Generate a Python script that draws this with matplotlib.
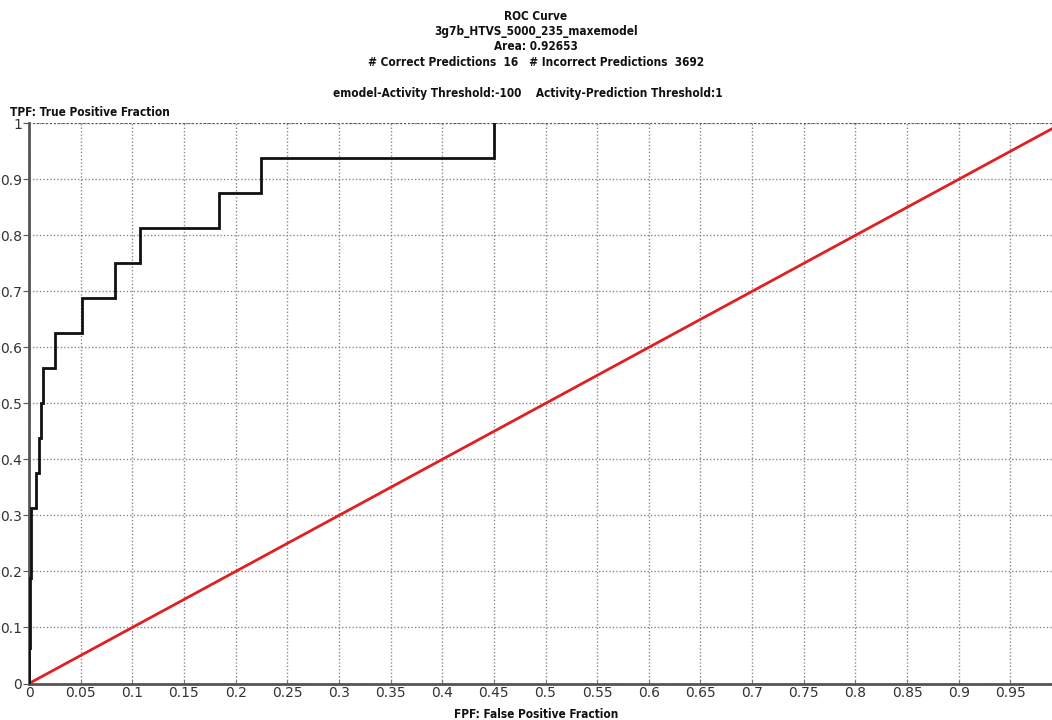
import matplotlib
matplotlib.use("Agg")
import matplotlib.pyplot as plt
from matplotlib import font_manager
import numpy as np

# ROC step curve (FPF, TPF)
fpf = [0.0, 0.0, 0.0008, 0.0008, 0.0016, 0.0016, 0.0068, 0.0068, 0.0100, 0.0100,
       0.0113, 0.0113, 0.0139, 0.0139, 0.0252, 0.0252, 0.0512, 0.0512, 0.0835, 0.0835,
       0.1075, 0.1075, 0.1840, 0.1840, 0.2250, 0.2250, 0.4505, 0.4505]
tpf = [0.0, 0.0625, 0.0625, 0.1875, 0.1875, 0.3125, 0.3125, 0.375, 0.375, 0.4375,
       0.4375, 0.5, 0.5, 0.5625, 0.5625, 0.625, 0.625, 0.6875, 0.6875, 0.75,
       0.75, 0.8125, 0.8125, 0.875, 0.875, 0.9375, 0.9375, 1.0]
diag_x = [0.0, 1.0]
diag_y = [0.0, 1.0]

xticks = [round(0.05 * i, 2) for i in range(20)]
xtick_labels = ["0", "0.05", "0.1", "0.15", "0.2", "0.25", "0.3", "0.35", "0.4", "0.45",
                "0.5", "0.55", "0.6", "0.65", "0.7", "0.75", "0.8", "0.85", "0.9", "0.95"]
yticks = [round(0.1 * i, 1) for i in range(11)]
ytick_labels = ["0", "0.1", "0.2", "0.3", "0.4", "0.5", "0.6", "0.7", "0.8", "0.9", "1"]

title_lines = ["ROC Curve", "3g7b_HTVS_5000_235_maxemodel", "Area: 0.92653",
               "# Correct Predictions  16   # Incorrect Predictions  3692"]
subtitle = "emodel-Activity Threshold:-100    Activity-Prediction Threshold:1"

names = {f.name for f in font_manager.fontManager.ttflist}
if "Liberation Sans Narrow" in names:
    fam = ["Liberation Sans Narrow", "DejaVu Sans"]
    stretch = "normal"
else:
    fam = ["DejaVu Sans"]
    stretch = "condensed"

fig = plt.figure(figsize=(10.52, 7.2), dpi=100)
ax = fig.add_axes([29 / 1052, (720 - 683.5) / 720, 1 - 29 / 1052, (683.5 - 123.3) / 720])
ax.set_xlim(0, (1052 - 29) / 1033)
ax.set_ylim(0, 1)

ax.set_xticks(xticks)
ax.set_xticklabels(xtick_labels)
ax.set_yticks(yticks)
ax.set_yticklabels(ytick_labels)
ax.grid(True, linestyle=(0, (1, 1.5)), color="#8a8a8a", linewidth=1.0)
ax.set_axisbelow(True)

ax.plot(diag_x, diag_y, color="#e02020", linewidth=2.0, zorder=3)
ax.plot(fpf, tpf, color="#111111", linewidth=2.0, zorder=4, solid_joinstyle="miter")

for s in ["top", "right"]:
    ax.spines[s].set_visible(False)
for s in ["left", "bottom"]:
    ax.spines[s].set_color("#555555")
    ax.spines[s].set_linewidth(2.0)
ax.axhline(1.0, color="#555555", linestyle=(0, (1, 1)), linewidth=1.5, zorder=2)

ax.tick_params(axis="x", direction="in", length=3, color="#777777", labelsize=10,
               labelcolor="#333333", pad=2)
ax.tick_params(axis="y", direction="out", length=4, color="#555555", labelsize=10,
               labelcolor="#333333", pad=1)

tkw = dict(fontsize=8.5, fontweight="bold", family=fam, fontstretch=stretch, color="#111111")
ys = [16, 31, 46, 62]
for t, y in zip(title_lines, ys):
    fig.text(536 / 1052, 1 - y / 720, t, ha="center", va="center", **tkw)
fig.text(528 / 1052, 1 - 94 / 720, subtitle, ha="center", va="center", **tkw)
fig.text(10 / 1052, 1 - 113 / 720, "TPF: True Positive Fraction", ha="left", va="center", **tkw)
fig.text(536 / 1052, 1 - 714 / 720, "FPF: False Positive Fraction", ha="center", va="center", **tkw)

fig.savefig("out.png", dpi=100)
